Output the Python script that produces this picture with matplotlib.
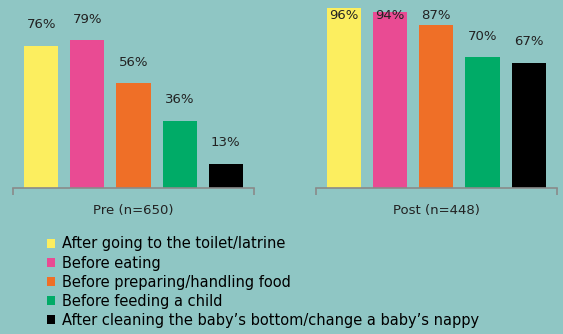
import matplotlib
matplotlib.use("Agg")
import matplotlib.pyplot as plt
from matplotlib.patches import Patch

# data
categories = [
    "After going to the toilet/latrine",
    "Before eating",
    "Before preparing/handling food",
    "Before feeding a child",
    "After cleaning the baby\u2019s bottom/change a baby\u2019s nappy",
]
colors = ["#FCEE5F", "#E94B93", "#EF6F27", "#00AB67", "#000000"]
pre_values = [76, 79, 56, 36, 13]
post_values = [96, 94, 87, 70, 67]
group_labels = ["Pre (n=650)", "Post (n=448)"]

bg = "#8FC6C4"
fig = plt.figure(figsize=(5.63, 3.34), dpi=100, facecolor=bg)

ax_pre = fig.add_axes([0.0231, 0.437, 0.428, 0.56])
ax_post = fig.add_axes([0.561, 0.437, 0.428, 0.56])

for ax, vals, glabel in [(ax_pre, pre_values, group_labels[0]),
                         (ax_post, post_values, group_labels[1])]:
    ax.set_facecolor(bg)
    x = range(len(vals))
    ax.bar(x, vals, width=0.74, color=colors)
    for i, v in enumerate(vals):
        ax.text(i, min(v + 11.2, 92.5), f"{v}%", ha="center", va="center",
                fontsize=9.5, color="#222222")
    ax.set_xlim(-0.61, len(vals) - 1 + 0.61)
    ax.set_ylim(0, 100)
    for s in ["top", "right", "left"]:
        ax.spines[s].set_visible(False)
    ax.spines["bottom"].set_color("#8a8a8a")
    ax.spines["bottom"].set_linewidth(1.2)
    ax.set_yticks([])
    ax.set_xticks([-0.61, len(vals) - 1 + 0.61])
    ax.set_xticklabels([])
    ax.tick_params(axis="x", length=5, color="#8a8a8a", width=1.2)
    ax.set_xlabel(glabel, fontsize=9.5, color="#222222", labelpad=3)

handles = [Patch(facecolor=c, edgecolor="none") for c in colors]
fig.legend(handles, categories, loc="upper left", bbox_to_anchor=(0.083, 0.292),
           frameon=False, fontsize=10.5, handlelength=0.6, handleheight=0.6,
           handletextpad=0.45, labelspacing=0.28, borderaxespad=0, borderpad=0)

fig.savefig("out.png", dpi=100, facecolor=bg)
